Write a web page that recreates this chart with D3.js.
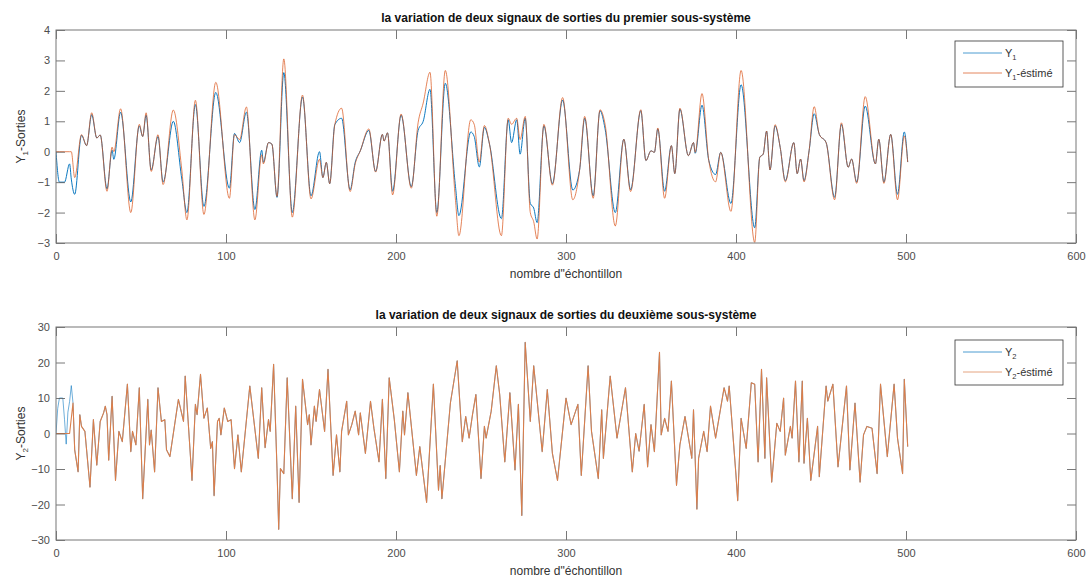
<!DOCTYPE html>
<html><head><meta charset="utf-8">
<script src="https://cdn.jsdelivr.net/npm/d3@7"></script>
<style>
body{margin:0;background:#fff;}
svg{display:block;font-family:"Liberation Sans",Arial,Helvetica,sans-serif;}
</style></head><body>
<svg id="chart" width="1092" height="583"></svg>
<script>
// ---------- data ----------
const xTicks = [0,100,200,300,400,500,600];
const y1Ticks = [-3,-2,-1,0,1,2,3,4];
const y2Ticks = [-30,-20,-10,0,10,20,30];
const titles = ["la variation de deux signaux de sorties du premier sous-système",
                "la variation de deux signaux de sorties du deuxième sous-système"];
const xLabel = "nombre d\"échontillon";

// first subsystem: sample index, Y1, Y1-estimé
const y1Samples = [
 0,2,5,8,9,11,15,18,21,24,
 26,30,33,34,38,44,49,51,53,56,
 60,63,69,74,77,82,87,94,102,105,
 108,112,117,121,122,125,127,130,134,139,
 145,150,155,157,159,161,164,168,173,176,
 179,184,188,192,193,195,198,203,209,213,
 216,220,224,229,235,237,244,246,249,252,
 255,262,266,268,271,273,276,279,281,283,
 287,292,298,304,308,311,316,320,323,329,
 334,338,344,347,350,352,354,358,362,364,
 367,372,375,376,380,384,388,391,397,403,
 411,414,416,418,420,423,426,429,434,436,
 438,440,443,446,449,453,458,462,466,468,
 471,476,482,484,487,491,495,499,501];
const y1Values = [
 0,-1,-1,-0.4,-0.9,-1.4,0.54,0.2,1.22,0.45,
 0.55,-1.22,0.05,-0.25,1.3,-1.65,0.85,0.5,1.2,-0.6,
 0.5,-1.0,1.0,-0.9,-2.0,1.55,-1.8,1.95,-1.2,0.6,
 0.3,1.3,-1.9,0.05,-0.35,0.3,0.25,-1.5,2.6,-2.0,
 1.8,-1.45,0.0,-0.85,-0.35,-1.05,0.89,1.1,-1.25,-0.35,
 0.03,0.7,-0.65,0.57,0.35,0.62,-1.3,1.2,-1.15,0.7,
 1.0,2.05,-2.0,2.25,-1.15,-2.1,0.65,0.5,-0.5,0.8,
 0.25,-2.2,1.05,0.3,1.05,-0.08,1.1,-1.7,-1.85,-2.33,
 0.85,-1.05,1.7,-1.26,-0.6,1.1,-1.45,1.35,0.75,-2.0,
 0.41,-1.25,1.35,-0.29,0.03,-0.02,0.75,-1.3,0.2,-0.72,
 1.4,-0.13,0.3,-0.05,1.53,-0.29,-0.75,-0.02,-1.7,2.2,
 -2.5,-0.18,-0.08,0.68,-0.6,0.85,0.14,-0.95,0.3,-0.72,
 -0.24,-0.95,0.03,1.25,0.57,0.3,-1.5,0.9,-0.51,-0.24,
 -1.0,1.5,-0.4,0.41,-1.0,0.57,-1.4,0.65,-0.34];
const y1EstValues = [
 0,0,0,0,0,-0.85,0.56,0.2,1.28,0.45,
 0.55,-1.3,0.15,0.0,1.41,-2.0,0.9,0.5,1.28,-0.65,
 0.56,-1.08,1.37,-0.6,-2.24,1.69,-2.06,2.28,-1.53,0.56,
 0.4,1.47,-2.24,-0.1,-0.4,0.3,0.25,-1.47,3.05,-2.15,
 1.86,-1.55,-0.25,-0.85,-0.35,-1.05,0.89,1.43,-1.31,-0.4,
 0.03,0.75,-0.67,0.57,0.35,0.62,-1.42,1.24,-1.2,0.95,
 1.6,2.61,-2.12,2.67,-1.6,-2.76,1.05,0.9,-0.34,0.86,
 0.25,-2.76,1.1,0.9,1.1,0.4,1.16,-2.0,-2.3,-2.87,
 0.9,-1.1,1.78,-1.58,-0.6,1.16,-1.53,1.38,0.9,-2.44,
 0.41,-1.31,1.38,-0.29,0.03,-0.02,0.78,-1.53,0.2,-0.72,
 1.43,-0.13,0.3,-0.02,1.91,-0.29,-0.99,-0.02,-1.96,2.67,
 -2.98,-0.18,-0.08,0.68,-0.6,0.89,0.14,-0.99,0.3,-0.72,
 -0.24,-0.99,0.03,1.48,0.57,0.3,-1.58,0.95,-0.51,-0.24,
 -1.04,1.81,-0.4,0.41,-1.04,0.57,-1.58,0.52,-0.34];

// second subsystem: differing start of each series, then the shared part
const y2HeadSamples = [0,1,2,4,5,6,7,8,9];
const y2HeadValues  = [0,7,10,10,4,-3,6,9,13.5];
const y2EstHeadSamples = [0,8];
const y2EstHeadValues  = [0,0];
const y2Samples = [
 10,11,13,14,15,17,20,22,24,26,
 28,29,30,31,33,35,37,39,42,44,
 45,47,49,51,54,55,56,58,60,62,
 64,65,67,72,75,76,80,82,83,85,
 87,89,91,92,93,95,96,97,99,101,
 103,105,107,109,114,119,121,123,125,126,
 128,130,131,132,134,136,139,141,143,145,
 148,149,150,152,153,155,158,160,163,165,
 167,168,171,172,174,176,178,179,182,185,
 187,190,192,194,196,199,202,204,205,207,
 212,214,218,222,225,226,227,232,236,239,
 241,243,245,247,250,252,253,256,259,261,
 264,267,270,272,274,276,279,281,286,289,
 292,295,300,303,307,309,313,315,319,321,
 322,326,330,335,339,341,343,346,348,350,
 352,355,356,358,360,362,365,367,370,374,
 375,377,378,381,383,385,388,393,395,396,
 400,401,403,406,409,411,413,415,417,418,
 421,424,426,428,429,432,433,435,437,439,
 440,442,444,448,449,453,454,457,460,465,
 467,470,473,475,477,480,483,485,489,493,
 495,498,499,501];
const y2Values = [
 8.6,-4.6,-10.8,5.3,2,0.6,-15.1,3.9,-8.9,3.4,
 5.8,7.7,5.3,-7.5,10.5,-13.2,0.6,-2.3,13.9,-5.1,
 0.6,-3.2,12.9,-18.4,9.6,-3.2,1,-10.8,12.9,3.4,
 3.9,-4.6,-6.5,9.6,3.4,16.2,-13.2,8.2,5.3,16.7,
 4.3,7.2,-4.2,-2.3,-17.5,3.4,4.3,-0.4,7.2,3.4,
 3.9,-9.9,-0.4,-10.8,13.4,-7,12.9,-4,3.9,0.6,
 19.5,-9.9,-27,-9.9,-11.3,15.7,-18.4,7.7,-19.4,15.3,
 2.5,5.3,-3.2,7.7,3.4,12.4,0.6,18.1,-11.8,-0.4,
 -10.8,0.6,9.1,-0.4,2.5,6.3,-0.4,5.8,-5.6,9.1,
 1.5,-8,9.6,-12.7,15.7,3.9,-10.8,6.3,-0.4,11.5,
 -11.8,-3.7,-19.4,13.9,-16,-9,-18.4,8.6,20.5,-2.3,
 4.8,-1.3,5.3,11,-12.7,2,-1.3,6.3,19.1,11,
 -8,11.5,-10.3,8.2,-23.1,25.7,3.4,19.1,-5.1,12.4,
 -5.6,-13.2,10,2.5,8.2,-11.8,19.1,0.6,-12.7,6.7,
 -7,16.2,-1.3,12.9,-10.8,0,-5,8.2,-9.4,2.5,
 -5.1,22.9,-0.4,4.3,0.6,14.8,-14.6,-3.2,4.8,-7,
 6.7,-21.3,-7,0.6,-5.1,7.7,-1.3,12.9,9.1,13.4,
 -11.8,-18.9,4.3,-4.2,14.3,13.9,-8,18.1,-7,15.7,
 -13.7,2.9,0.6,10,-6.1,2,-1.3,14.8,-8,14.8,
 -8.4,4.3,-13.2,2,-12.2,13.4,9.1,13.9,-9.4,13.4,
 -10.3,8.6,-13.7,-0.4,2,1.5,-11.3,13.9,-6.5,13.9,
 -1.3,-11.3,15.3,-3.7];

// ---------- helpers ----------
function pts(ns, vs){ const n=Math.min(ns.length,vs.length); return d3.range(n).map(i=>[ns[i],vs[i]]); }
const y1Data = pts(y1Samples,y1Values);
const y1EstData = pts(y1Samples,y1EstValues);
const y2Data = pts(y2HeadSamples,y2HeadValues).concat(pts(y2Samples,y2Values));
const y2EstData = pts(y2EstHeadSamples,y2EstHeadValues).concat(pts(y2Samples,y2Values));

const BLUE="#0072BD", ORANGE="#D95319", ORANGE_LIGHT="#DA7E4B";
const svg = d3.select("#chart");
const L=56, R=1076;

const panels = [
 {top:30,bottom:243,yDomain:[-3,4],yTicks:y1Ticks,title:titles[0],sub:"1",
  series:[{data:y1Data,color:BLUE,op:0.95,w:1,name:""},{data:y1EstData,color:ORANGE,op:0.8,w:0.9,name:"-éstimé"}],
  curve:d3.curveMonotoneX, legend:{x:955,y:41,w:108,h:46}},
 {top:327,bottom:540,yDomain:[-30,30],yTicks:y2Ticks,title:titles[1],sub:"2",
  series:[{data:y2Data,color:BLUE,op:0.95,w:0.6,name:""},{data:y2EstData,color:ORANGE_LIGHT,op:1,w:1.1,name:"-éstimé"}],
  curve:d3.curveLinear, legend:{x:955,y:340,w:108,h:45}}
];

panels.forEach((p,pi)=>{
  const x = d3.scaleLinear([0,600],[L,R]);
  const y = d3.scaleLinear(p.yDomain,[p.bottom,p.top]);
  const g = svg.append("g");
  const cid = "clip"+pi;
  g.append("clipPath").attr("id",cid).append("rect")
    .attr("x",L).attr("y",p.top).attr("width",R-L).attr("height",p.bottom-p.top);

  // lines
  const line = d3.line().x(d=>x(d[0])).y(d=>y(d[1])).curve(p.curve);
  const lg = g.append("g").attr("clip-path",`url(#${cid})`);
  p.series.forEach(s=>{
    lg.append("path").datum(s.data).attr("d",line)
      .attr("fill","none").attr("stroke",s.color).attr("stroke-width",s.w)
      .attr("stroke-opacity",s.op).attr("stroke-linejoin","round");
  });

  // axes
  const fmt = d3.format("d");
  const styleAx = sel=>{
    sel.select(".domain").remove();
    sel.selectAll(".tick line").attr("stroke","#555").attr("stroke-width",0.8);
    sel.selectAll(".tick text").attr("fill","#4d4d4d").attr("font-size",11)
      .attr("font-family","'Liberation Sans',Arial,sans-serif");
  };
  g.append("g").attr("transform",`translate(0,${p.bottom})`)
    .call(d3.axisBottom(x).tickValues(xTicks).tickFormat(fmt).tickSizeInner(-9).tickSizeOuter(0).tickPadding(9)).call(styleAx);
  g.append("g").attr("transform",`translate(0,${p.top})`)
    .call(d3.axisTop(x).tickValues(xTicks).tickSizeInner(-9).tickSizeOuter(0).tickFormat("")).call(styleAx);
  g.append("g").attr("transform",`translate(${L},0)`)
    .call(d3.axisLeft(y).tickValues(p.yTicks).tickFormat(fmt).tickSizeInner(-9).tickSizeOuter(0).tickPadding(6)).call(styleAx);
  g.append("g").attr("transform",`translate(${R},0)`)
    .call(d3.axisRight(y).tickValues(p.yTicks).tickSizeInner(-9).tickSizeOuter(0).tickFormat("")).call(styleAx);
  g.append("rect").attr("x",L).attr("y",p.top).attr("width",R-L).attr("height",p.bottom-p.top)
    .attr("fill","none").attr("stroke","#777").attr("stroke-width",1);

  // title
  g.append("text").attr("x",(L+R)/2).attr("y",p.top-8).attr("text-anchor","middle")
    .attr("font-size",12).attr("font-weight","bold").attr("fill","#111").text(p.title);
  // x label
  g.append("text").attr("x",(L+R)/2).attr("y",p.bottom+35).attr("text-anchor","middle")
    .attr("font-size",12).attr("fill","#333").text(xLabel);
  // y label
  const yl = g.append("text").attr("transform",`translate(25,${(p.top+p.bottom)/2}) rotate(-90)`)
    .attr("text-anchor","middle").attr("font-size",12).attr("fill","#333");
  yl.append("tspan").text("Y");
  yl.append("tspan").attr("font-size",8).attr("dy",3).text(p.sub);
  yl.append("tspan").attr("dy",-3).text("-Sorties");

  // legend
  const lgd = g.append("g");
  lgd.append("rect").attr("x",p.legend.x).attr("y",p.legend.y).attr("width",p.legend.w).attr("height",p.legend.h)
    .attr("fill","#fff").attr("stroke","#333").attr("stroke-width",0.8);
  p.series.forEach((s,i)=>{
    const ly = p.legend.y + 12 + i*20;
    lgd.append("line").attr("x1",p.legend.x+8).attr("x2",p.legend.x+47).attr("y1",ly).attr("y2",ly)
      .attr("stroke",s.color).attr("stroke-opacity",0.7).attr("stroke-width",1);
    const t = lgd.append("text").attr("x",p.legend.x+50).attr("y",ly+4).attr("font-size",11).attr("fill","#333");
    t.append("tspan").text("Y");
    t.append("tspan").attr("font-size",7.5).attr("dy",3).text(p.sub);
    if(s.name) t.append("tspan").attr("dy",-3).text(s.name);
  });
});
</script>
</body></html>
